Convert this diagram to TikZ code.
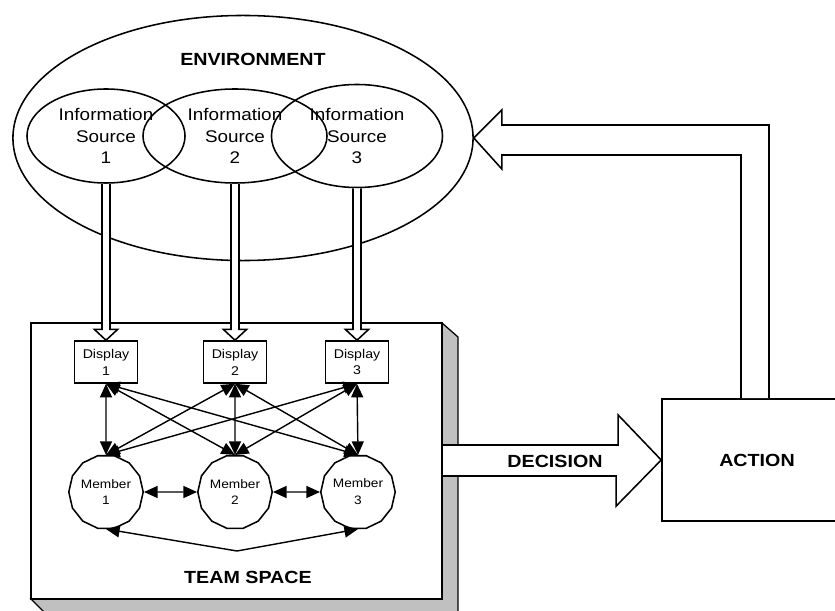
\documentclass[tikz,border=0pt]{standalone}
\usepackage{fontspec}
\setmainfont[FakeStretch=1.12]{Liberation Sans}
\usepackage{tikz}
\usetikzlibrary{positioning,shapes,calc,arrows.meta}

\definecolor{shadegray}{RGB}{192,192,192}

\tikzset{
  source/.style={draw,ellipse,line width=1.1pt,align=center,font=\fontsize{12}{15.5}\selectfont,inner sep=0pt},
  display/.style={draw,rectangle,line width=1.1pt,align=center,minimum width=1.575cm,minimum height=1.05cm,font=\fontsize{9}{12}\selectfont,inner sep=0pt},
  member/.style={draw,regular polygon,regular polygon sides=14,line width=1.1pt,align=center,minimum size=1.86cm,font=\fontsize{8.7}{12}\selectfont,inner sep=0pt},
  label/.style={font=\bfseries\fontsize{12.5}{14}\selectfont},
  link/.style={{Triangle[length=3.4mm,width=3mm]}-{Triangle[length=3.4mm,width=3mm]},line width=1pt},
  hollow/.style={draw,fill=white,line width=1.1pt}
}

\begin{document}
\begin{tikzpicture}[x=0.025cm,y=-0.025cm]
    \useasboundingbox (0,0) rectangle (835,611);

    % Environment and information sources
    \node[draw,ellipse,line width=1.1pt,minimum width=11.5cm,minimum height=6.125cm] (env) at (243,138) {};
    \node[label] (envlabel) at (253,59) {ENVIRONMENT};
    \node[source,minimum width=3.95cm,minimum height=2.35cm] (S1) at (106,136) {Information\\Source\\1};
    \node[source,minimum width=4.6cm,minimum height=2.35cm] (S2) at (235,136) {Information\\Source\\2};
    \node[source,minimum width=4.275cm,minimum height=2.575cm] (S3) at (357,136) {Information\\Source\\3};

    % Team space box with shadow
    \draw[fill=shadegray,line width=0.9pt] (442,323) -- (458,337) -- (458,620) -- (52,620) -- (31,599) -- (442,599) -- cycle;
    \node[draw,fill=white,line width=1.6pt,minimum width=10.275cm,minimum height=6.9cm] (team) at (236.5,461) {};
    \node[label] (teamlabel) at (248,577) {TEAM SPACE};

    % Displays and members
    \node[display] (D1) at (106,362) {Display\\1};
    \node[display] (D2) at (235,362) {Display\\2};
    \node[display] (D3) at (357,362) {Display\\3};
    \node[member] (M1) at (106,492) {Member\\1};
    \node[member] (M2) at (235,492) {Member\\2};
    \node[member] (M3) at (358,492) {Member\\3};

    % Sources feed the displays
    \foreach \i in {1,2,3}
      \draw[hollow] ([xshift=-0.1cm]S\i.south) -- ([xshift=-0.1cm,yshift=0.27cm]D\i.north)
        -- ([xshift=-0.29cm,yshift=0.27cm]D\i.north) -- (D\i.north)
        -- ([xshift=0.29cm,yshift=0.27cm]D\i.north) -- ([xshift=0.1cm,yshift=0.27cm]D\i.north)
        -- ([xshift=0.1cm]S\i.south);

    % Display to member links
    \foreach \i in {1,2,3}
      \foreach \j in {1,2,3}
        \draw[link] (D\i.south) -- (M\j.north);
    \draw[link] (M1.east) -- (M2.west);
    \draw[link] (M2.east) -- (M3.west);
    \coordinate (low) at (237,551);
    \draw[link] (M1.south) -- (low) -- (M3.south);

    % Decision and action
    \node[draw,line width=1.1pt,minimum width=4.75cm,minimum height=3.05cm] (action) at (757,460) {};
    \node[label] (actionlabel) at (action.center) {ACTION};
    \draw[hollow] ([yshift=0.4cm]team.east) -- ++(175,0) -- ++(0,-30) -- (action.west)
      -- ++(-45,46) -- ++(0,-30) -- ([yshift=-0.375cm]team.east);
    \node[label] (decision) at (555,461) {DECISION};

    % Feedback to the environment
    \draw[hollow] ([xshift=-0.4cm]action.north) |- ($(env.east)+(28,17)$) -- ($(env.east)+(28,31)$)
      -- (env.east) -- ($(env.east)+(28,-28)$) -- ($(env.east)+(28,-13)$) -| ([xshift=0.3cm]action.north);
\end{tikzpicture}
\end{document}
